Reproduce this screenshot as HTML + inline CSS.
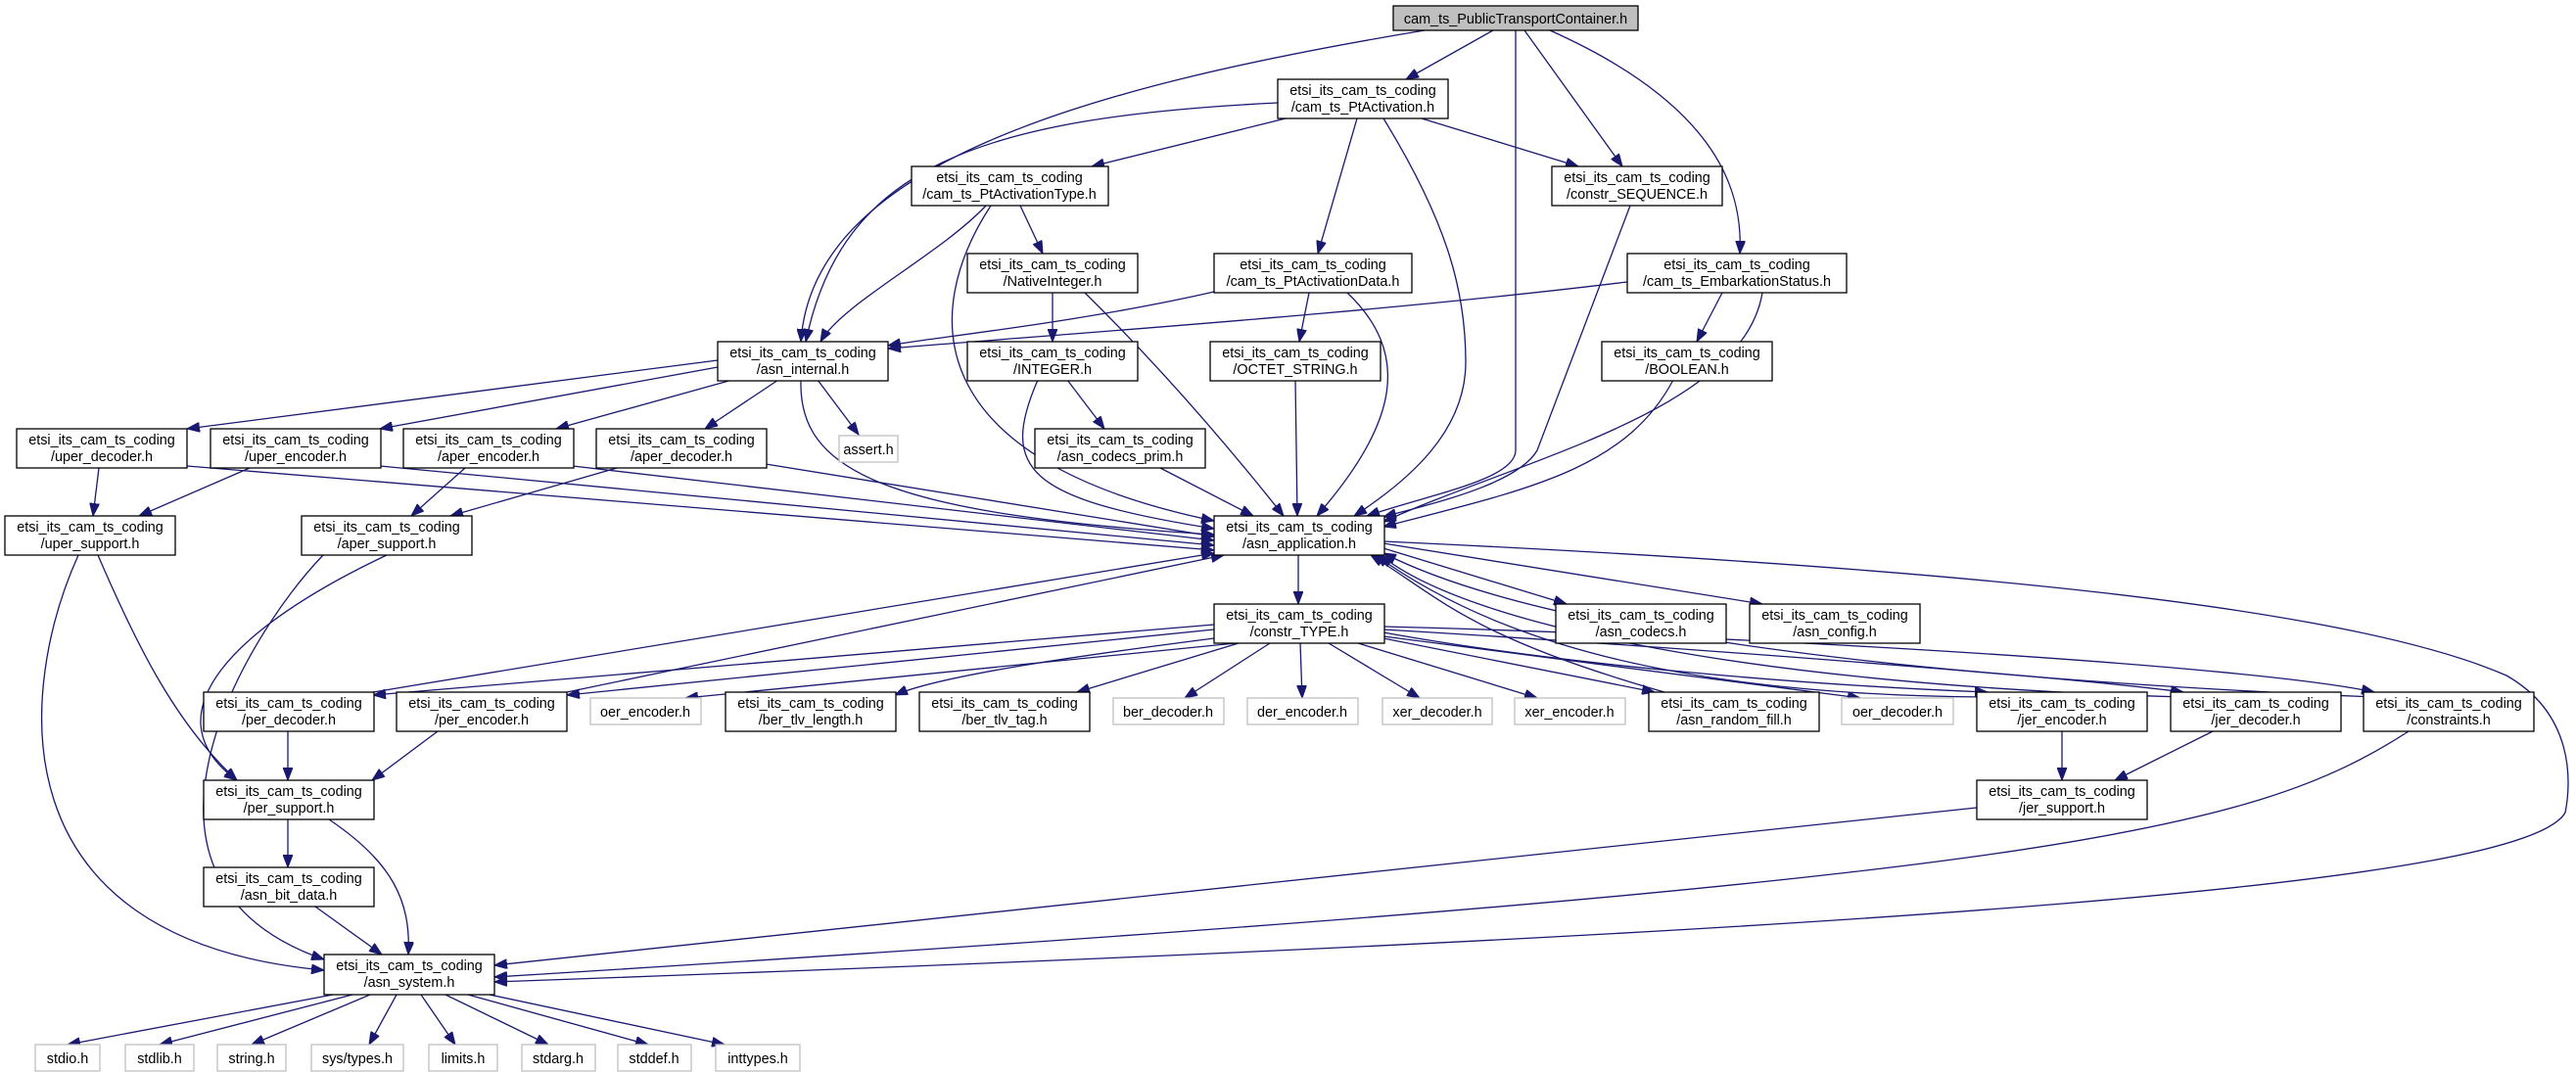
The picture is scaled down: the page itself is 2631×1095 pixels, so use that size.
<!DOCTYPE html>
<html><head><meta charset="utf-8"><style>
html,body{margin:0;padding:0;background:#fff;}
svg{display:block;}
text{font-family:"Liberation Sans",Arial,sans-serif;font-size:14.4px;fill:#000;text-anchor:middle;}
.n{fill:#fff;stroke:#000;stroke-width:1.3;}
.g{fill:#fff;stroke:#bfbfbf;stroke-width:1.3;}
.e{fill:none;stroke:#191970;stroke-width:1.3;marker-end:url(#a);}
</style></head><body>
<svg width="2631" height="1095" viewBox="0 0 2631 1095" xmlns="http://www.w3.org/2000/svg">
<defs><marker id="a" markerUnits="userSpaceOnUse" markerWidth="14" markerHeight="10" refX="13" refY="5" orient="auto"><path d="M0,0 L13,5 L0,10 z" fill="#191970" stroke="#191970"/></marker></defs>

<!-- edges -->
<path class="e" d="M1455,31 C1100,90 830,170 818,349"/>
<path class="e" d="M1525,31 L1436,81"/>
<path class="e" d="M1548,31 L1548,460 C1548,490 1460,505 1396,527"/>
<path class="e" d="M1557,31 L1657,170"/>
<path class="e" d="M1583,31 C1760,110 1780,200 1777,259"/>

<path class="e" d="M1305,105 C1000,120 860,170 823,349"/>
<path class="e" d="M1313,121 L1115,170"/>
<path class="e" d="M1386,121 L1346,259"/>
<path class="e" d="M1413,121 C1480,230 1497,300 1497,370 C1497,440 1440,490 1383,527"/>
<path class="e" d="M1452,121 L1612,170"/>

<path class="e" d="M1007,210 C960,260 860,310 838,349"/>
<path class="e" d="M1042,210 L1065,259"/>
<path class="e" d="M1012,210 C940,320 940,470 1240,532"/>

<path class="e" d="M1108,299 C1180,370 1250,450 1311,527"/>
<path class="e" d="M1075,299 L1075,349"/>

<path class="e" d="M1240,298 C1100,330 950,345 907,353"/>
<path class="e" d="M1337,299 L1327,349"/>
<path class="e" d="M1376,299 C1440,360 1430,430 1345,527"/>

<path class="e" d="M1662,288 C1400,320 1100,340 907,356"/>
<path class="e" d="M1759,299 L1733,349"/>
<path class="e" d="M1800,299 C1780,420 1550,470 1413,533"/>

<path class="e" d="M1665,210 L1570,460 C1550,495 1460,515 1413,528"/>

<path class="e" d="M1090,388 L1128,438"/>
<path class="e" d="M1060,388 C1020,480 1050,510 1240,540"/>
<path class="e" d="M1323,388 L1325,527"/>
<path class="e" d="M1709,388 C1660,480 1560,500 1413,538"/>
<path class="e" d="M1185,478 L1280,527"/>

<path class="e" d="M733,368 L191,438"/>
<path class="e" d="M733,375 L388,438"/>
<path class="e" d="M748,388 L568,438"/>
<path class="e" d="M795,388 L720,438"/>
<path class="e" d="M835,388 L877,444"/>
<path class="e" d="M818,388 C815,480 900,525 1240,546"/>

<path class="e" d="M101,478 L95,527"/>
<path class="e" d="M191,476 L1240,562"/>
<path class="e" d="M255,478 L142,527"/>
<path class="e" d="M388,476 L1240,557"/>
<path class="e" d="M475,478 L420,527"/>
<path class="e" d="M585,476 L1240,552"/>
<path class="e" d="M630,478 L460,527"/>
<path class="e" d="M782,474 L1240,548"/>

<path class="e" d="M100,567 C140,660 180,740 242,797"/>
<path class="e" d="M80,567 C20,700 -10,960 331,991"/>
<path class="e" d="M395,567 C240,640 150,730 242,797"/>
<path class="e" d="M330,567 C250,650 100,900 331,980"/>

<path class="e" d="M1326,567 L1326,617"/>
<path class="e" d="M1413,560 L1600,617"/>
<path class="e" d="M1413,555 L1800,617"/>
<path class="e" d="M1413,553 C2000,580 2400,620 2560,690 C2630,730 2626,800 2620,830 C2580,900 2000,950 505,1003"/>

<path class="e" d="M1240,638 L381,710"/>
<path class="e" d="M1240,643 L579,710"/>
<path class="e" d="M1262,657 L700,713"/>
<path class="e" d="M1240,652 C1100,670 960,690 914,710"/>
<path class="e" d="M1265,657 L1100,707"/>
<path class="e" d="M1297,657 L1210,713"/>
<path class="e" d="M1328,657 L1330,713"/>
<path class="e" d="M1357,657 L1450,713"/>
<path class="e" d="M1387,657 L1570,713"/>
<path class="e" d="M1413,652 L1690,707"/>
<path class="e" d="M1413,650 L1900,713"/>
<path class="e" d="M1413,646 C1600,680 1850,700 2030,707"/>
<path class="e" d="M1413,643 C1700,660 2100,690 2230,707"/>
<path class="e" d="M1413,640 C1800,650 2300,680 2425,707"/>

<path class="e" d="M381,707 L1240,565"/>
<path class="e" d="M579,707 L1250,567"/>
<path class="e" d="M1700,707 C1500,650 1470,610 1400,567"/>
<path class="e" d="M2030,712 C1700,710 1520,650 1405,567"/>
<path class="e" d="M2230,712 C1800,700 1500,640 1410,567"/>
<path class="e" d="M2425,712 C1900,690 1560,640 1413,565"/>

<path class="e" d="M294,747 L294,797"/>
<path class="e" d="M447,747 L380,797"/>
<path class="e" d="M294,837 L294,886"/>
<path class="e" d="M336,837 C400,880 420,920 417,975"/>
<path class="e" d="M322,926 L390,975"/>

<path class="e" d="M2106,747 L2106,797"/>
<path class="e" d="M2260,747 L2160,797"/>
<path class="e" d="M2019,825 L505,986"/>
<path class="e" d="M2460,747 C2300,850 2100,900 505,998"/>

<path class="e" d="M340,1016 L69,1067"/>
<path class="e" d="M360,1016 L163,1067"/>
<path class="e" d="M378,1016 L257,1067"/>
<path class="e" d="M405,1016 L377,1067"/>
<path class="e" d="M430,1016 L465,1067"/>
<path class="e" d="M455,1016 L560,1067"/>
<path class="e" d="M478,1016 L662,1067"/>
<path class="e" d="M500,1016 L740,1067"/>

<!-- nodes -->
<rect x="1423" y="6" width="250" height="25" fill="#bfbfbf" stroke="#000" stroke-width="1.3"/>
<text x="1548" y="24">cam_ts_PublicTransportContainer.h</text>

<g>
<rect class="n" x="1305" y="81" width="174" height="40"/><text x="1392" y="97">etsi_its_cam_ts_coding</text><text x="1392" y="114">/cam_ts_PtActivation.h</text>
<rect class="n" x="931" y="170" width="201" height="40"/><text x="1031" y="186">etsi_its_cam_ts_coding</text><text x="1031" y="203">/cam_ts_PtActivationType.h</text>
<rect class="n" x="1585" y="170" width="174" height="40"/><text x="1672" y="186">etsi_its_cam_ts_coding</text><text x="1672" y="203">/constr_SEQUENCE.h</text>
<rect class="n" x="988" y="259" width="174" height="40"/><text x="1075" y="275">etsi_its_cam_ts_coding</text><text x="1075" y="292">/NativeInteger.h</text>
<rect class="n" x="1240" y="259" width="202" height="40"/><text x="1341" y="275">etsi_its_cam_ts_coding</text><text x="1341" y="292">/cam_ts_PtActivationData.h</text>
<rect class="n" x="1662" y="259" width="224" height="40"/><text x="1774" y="275">etsi_its_cam_ts_coding</text><text x="1774" y="292">/cam_ts_EmbarkationStatus.h</text>
<rect class="n" x="733" y="349" width="174" height="40"/><text x="820" y="365">etsi_its_cam_ts_coding</text><text x="820" y="382">/asn_internal.h</text>
<rect class="n" x="988" y="349" width="174" height="40"/><text x="1075" y="365">etsi_its_cam_ts_coding</text><text x="1075" y="382">/INTEGER.h</text>
<rect class="n" x="1236" y="349" width="174" height="40"/><text x="1323" y="365">etsi_its_cam_ts_coding</text><text x="1323" y="382">/OCTET_STRING.h</text>
<rect class="n" x="1636" y="349" width="174" height="40"/><text x="1723" y="365">etsi_its_cam_ts_coding</text><text x="1723" y="382">/BOOLEAN.h</text>

<rect class="n" x="17" y="438" width="174" height="40"/><text x="104" y="454">etsi_its_cam_ts_coding</text><text x="104" y="471">/uper_decoder.h</text>
<rect class="n" x="215" y="438" width="174" height="40"/><text x="302" y="454">etsi_its_cam_ts_coding</text><text x="302" y="471">/uper_encoder.h</text>
<rect class="n" x="412" y="438" width="174" height="40"/><text x="499" y="454">etsi_its_cam_ts_coding</text><text x="499" y="471">/aper_encoder.h</text>
<rect class="n" x="609" y="438" width="174" height="40"/><text x="696" y="454">etsi_its_cam_ts_coding</text><text x="696" y="471">/aper_decoder.h</text>
<rect class="g" x="857" y="445" width="60" height="27"/><text x="887" y="464">assert.h</text>
<rect class="n" x="1057" y="438" width="174" height="40"/><text x="1144" y="454">etsi_its_cam_ts_coding</text><text x="1144" y="471">/asn_codecs_prim.h</text>

<rect class="n" x="5" y="527" width="174" height="40"/><text x="92" y="543">etsi_its_cam_ts_coding</text><text x="92" y="560">/uper_support.h</text>
<rect class="n" x="308" y="527" width="174" height="40"/><text x="395" y="543">etsi_its_cam_ts_coding</text><text x="395" y="560">/aper_support.h</text>
<rect class="n" x="1240" y="527" width="174" height="40"/><text x="1327" y="543">etsi_its_cam_ts_coding</text><text x="1327" y="560">/asn_application.h</text>

<rect class="n" x="1240" y="617" width="174" height="40"/><text x="1327" y="633">etsi_its_cam_ts_coding</text><text x="1327" y="650">/constr_TYPE.h</text>
<rect class="n" x="1589" y="617" width="174" height="40"/><text x="1676" y="633">etsi_its_cam_ts_coding</text><text x="1676" y="650">/asn_codecs.h</text>
<rect class="n" x="1787" y="617" width="174" height="40"/><text x="1874" y="633">etsi_its_cam_ts_coding</text><text x="1874" y="650">/asn_config.h</text>

<rect class="n" x="208" y="707" width="174" height="40"/><text x="295" y="723">etsi_its_cam_ts_coding</text><text x="295" y="740">/per_decoder.h</text>
<rect class="n" x="405" y="707" width="174" height="40"/><text x="492" y="723">etsi_its_cam_ts_coding</text><text x="492" y="740">/per_encoder.h</text>
<rect class="g" x="603" y="713" width="113" height="27"/><text x="659" y="732">oer_encoder.h</text>
<rect class="n" x="741" y="707" width="174" height="40"/><text x="828" y="723">etsi_its_cam_ts_coding</text><text x="828" y="740">/ber_tlv_length.h</text>
<rect class="n" x="939" y="707" width="174" height="40"/><text x="1026" y="723">etsi_its_cam_ts_coding</text><text x="1026" y="740">/ber_tlv_tag.h</text>
<rect class="g" x="1137" y="713" width="113" height="27"/><text x="1193" y="732">ber_decoder.h</text>
<rect class="g" x="1274" y="713" width="113" height="27"/><text x="1330" y="732">der_encoder.h</text>
<rect class="g" x="1412" y="713" width="112" height="27"/><text x="1468" y="732">xer_decoder.h</text>
<rect class="g" x="1547" y="713" width="113" height="27"/><text x="1603" y="732">xer_encoder.h</text>
<rect class="n" x="1684" y="707" width="174" height="40"/><text x="1771" y="723">etsi_its_cam_ts_coding</text><text x="1771" y="740">/asn_random_fill.h</text>
<rect class="g" x="1881" y="713" width="114" height="27"/><text x="1938" y="732">oer_decoder.h</text>
<rect class="n" x="2019" y="707" width="174" height="40"/><text x="2106" y="723">etsi_its_cam_ts_coding</text><text x="2106" y="740">/jer_encoder.h</text>
<rect class="n" x="2217" y="707" width="174" height="40"/><text x="2304" y="723">etsi_its_cam_ts_coding</text><text x="2304" y="740">/jer_decoder.h</text>
<rect class="n" x="2414" y="707" width="174" height="40"/><text x="2501" y="723">etsi_its_cam_ts_coding</text><text x="2501" y="740">/constraints.h</text>

<rect class="n" x="208" y="797" width="174" height="40"/><text x="295" y="813">etsi_its_cam_ts_coding</text><text x="295" y="830">/per_support.h</text>
<rect class="n" x="2019" y="797" width="174" height="40"/><text x="2106" y="813">etsi_its_cam_ts_coding</text><text x="2106" y="830">/jer_support.h</text>
<rect class="n" x="208" y="886" width="174" height="40"/><text x="295" y="902">etsi_its_cam_ts_coding</text><text x="295" y="919">/asn_bit_data.h</text>
<rect class="n" x="331" y="975" width="174" height="41"/><text x="418" y="991">etsi_its_cam_ts_coding</text><text x="418" y="1008">/asn_system.h</text>

<rect class="g" x="36" y="1067" width="66" height="27"/><text x="69" y="1086">stdio.h</text>
<rect class="g" x="128" y="1067" width="70" height="27"/><text x="163" y="1086">stdlib.h</text>
<rect class="g" x="222" y="1067" width="70" height="27"/><text x="257" y="1086">string.h</text>
<rect class="g" x="318" y="1067" width="94" height="27"/><text x="365" y="1086">sys/types.h</text>
<rect class="g" x="438" y="1067" width="70" height="27"/><text x="473" y="1086">limits.h</text>
<rect class="g" x="533" y="1067" width="75" height="27"/><text x="570" y="1086">stdarg.h</text>
<rect class="g" x="631" y="1067" width="75" height="27"/><text x="668" y="1086">stddef.h</text>
<rect class="g" x="731" y="1067" width="86" height="27"/><text x="774" y="1086">inttypes.h</text>
</g>
</svg>
</body></html>
